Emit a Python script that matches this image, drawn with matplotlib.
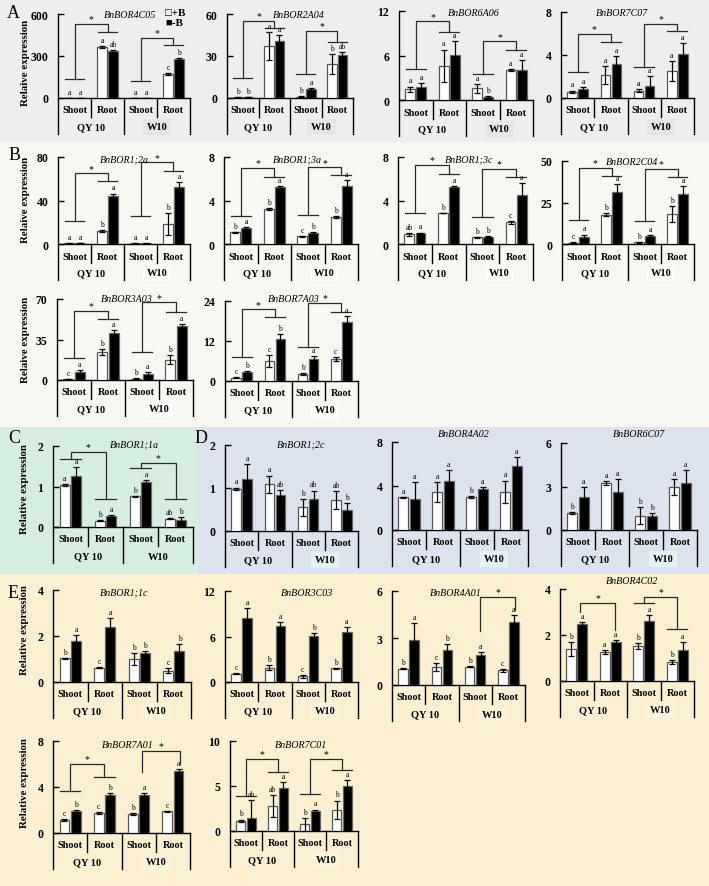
import matplotlib
matplotlib.use('Agg')
import matplotlib.pyplot as plt
from matplotlib.patches import Rectangle

plt.rcParams['font.family'] = ['Liberation Serif', 'DejaVu Sans']

W, H = 709, 887

groups = ['Shoot', 'Root', 'Shoot', 'Root']
cultivars = ['QY 10', 'W10']
legend_labels = ['\u25a1+B', '\u25a0-B']
ylabel_ab = 'Relaive expression'
ylabel_ce = 'Relative expression'

# ------------------------------------------------------------------ data
# order of the 4 values: QY10 Shoot, QY10 Root, W10 Shoot, W10 Root
# ---- A
g4C05_p = [1.5, 364, 1.5, 171]; g4C05_pe = [0.5, 8, 0.5, 8]
g4C05_m = [1.5, 333, 1.5, 278]; g4C05_me = [0.5, 10, 0.5, 10]
g4C05_lp = ['a', 'a', 'a', 'c']; g4C05_lm = ['a', 'ab', 'a', 'b']
g4C05_sig = [('s', 0, 136, 528, 1, 471), ('s', 2, 124, 428, 3, 378)]

g2A04_p = [0.5, 36.9, 1.0, 24.3]; g2A04_pe = [0.2, 10, 0.3, 7]
g2A04_m = [0.8, 41, 6.4, 30.7]; g2A04_me = [0.2, 4, 0.8, 2]
g2A04_lp = ['b', 'a', 'b', 'b']; g2A04_lm = ['b', 'a', 'a', 'ab']
g2A04_sig = [('s', 0, 14, 55, 1, 50), ('s', 2, 17, 48, 3, 40)]

g6A06_p = [1.47, 4.6, 1.56, 4.0]; g6A06_pe = [0.35, 2.2, 0.57, 0.15]
g6A06_m = [1.8, 6.1, 0.4, 4.04]; g6A06_me = [0.5, 1.9, 0.1, 1.4]
g6A06_lp = ['a', 'a', 'a', 'a']; g6A06_lm = ['a', 'a', 'b', 'a']
g6A06_sig = [('s', 0, 4.2, 10.6, 1, 9.2), ('s', 2, 3.5, 7.9, 3, 6.8)]

g7C07_p = [0.59, 2.14, 0.68, 2.54]; g7C07_pe = [0.1, 0.86, 0.15, 0.93]
g7C07_m = [0.84, 3.16, 1.14, 4.09]; g7C07_me = [0.15, 0.77, 0.88, 1.0]
g7C07_lp = ['a', 'a', 'a', 'a']; g7C07_lm = ['a', 'a', 'a', 'a']
g7C07_sig = [('s', 0, 2.4, 5.95, 1, 5.2), ('s', 2, 2.85, 6.9, 3, 6.2)]

# ---- B
g12a_p = [0.5, 12.2, 0.5, 18.4]; g12a_pe = [0.1, 1.0, 0.1, 10]
g12a_m = [0.8, 44.4, 0.5, 52.7]; g12a_me = [0.1, 2, 0.1, 4]
g12a_lp = ['a', 'b', 'a', 'b']; g12a_lm = ['a', 'a', 'a', 'a']
g12a_sig = [('s', 0, 21.5, 65, 1, 58.2), ('s', 2, 26, 75, 3, 67.4)]

g13a_p = [1.07, 3.2, 0.7, 2.5]; g13a_pe = [0.03, 0.1, 0.05, 0.1]
g13a_m = [1.44, 5.2, 0.98, 5.37]; g13a_me = [0.15, 0.15, 0.1, 0.55]
g13a_lp = ['b', 'b', 'c', 'b']; g13a_lm = ['a', 'a', 'b', 'a']
g13a_sig = [('s', 0, 2.6, 7.0, 1, 6.2), ('s', 2, 2.67, 7.05, 3, 6.35)]

g13c_p = [0.89, 2.85, 0.61, 2.0]; g13c_pe = [0.15, 0.03, 0.03, 0.15]
g13c_m = [1.0, 5.27, 0.67, 4.5]; g13c_me = [0.05, 0.08, 0.03, 1.1]
g13c_lp = ['ab', 'b', 'b', 'c']; g13c_lm = ['a', 'a', 'b', 'a']
g13c_sig = [('s', 0, 2.82, 7.27, 1, 6.44), ('s', 2, 2.5, 6.9, 3, 6.13)]

g2C04_p = [0.8, 17.7, 1.0, 18.1]; g2C04_pe = [0.2, 0.8, 0.2, 5]
g2C04_m = [4.5, 31.5, 4.8, 30.1]; g2C04_me = [1.2, 4.5, 0.5, 4.6]
g2C04_lp = ['c', 'b', 'b', 'b']; g2C04_lm = ['a', 'a', 'a', 'a']
g2C04_sig = [('s', 0, 14.7, 46, 1, 41), ('s', 2, 14.1, 45.4, 3, 40.6)]

g3A03_p = [0.8, 24, 1.2, 17.5]; g3A03_pe = [0.2, 2.5, 0.3, 4]
g3A03_m = [7, 40.4, 5, 46.4]; g3A03_me = [1.5, 3, 1.5, 2]
g3A03_lp = ['c', 'b', 'b', 'b']; g3A03_lm = ['a', 'a', 'a', 'a']
g3A03_sig = [('s', 0, 18.7, 60, 1, 52.7), ('s', 2, 24, 67, 3, 58.5)]

g7A03_p = [1.0, 6.0, 2.2, 6.7]; g7A03_pe = [0.2, 1.8, 0.3, 0.6]
g7A03_m = [2.8, 12.7, 6.7, 17.8]; g7A03_me = [0.3, 1.5, 0.9, 1.7]
g7A03_lp = ['c', 'c', 'b', 'c']; g7A03_lm = ['b', 'b', 'a', 'a']
g7A03_sig = [('s', 0, 7.3, 21.5, 1, 19.3), ('s', 2, 10.3, 23.5, 3, 20.7)]

# ---- C
g11a_p = [1.03, 0.16, 0.76, 0.2]; g11a_pe = [0.02, 0.01, 0.01, 0.01]
g11a_m = [1.25, 0.27, 1.1, 0.18]; g11a_me = [0.23, 0.03, 0.05, 0.07]
g11a_lp = ['a', 'b', 'b', 'ab']; g11a_lm = ['a', 'a', 'a', 'b']
g11a_sig = [('s', 0, 1.67, 1.86, 1, 0.69), ('s', 2, 1.45, 1.59, 3, 0.69)]

# ---- D
g12c_p = [0.98, 1.09, 0.55, 0.72]; g12c_pe = [0.03, 0.2, 0.2, 0.2]
g12c_m = [1.22, 0.84, 0.74, 0.49]; g12c_me = [0.34, 0.12, 0.2, 0.15]
g12c_lp = ['a', 'a', 'b', 'ab']; g12c_lm = ['a', 'ab', 'ab', 'b']
g12c_sig = []

g4A02_p = [2.97, 3.43, 3.03, 3.5]; g4A02_pe = [0.05, 0.9, 0.08, 1.0]
g4A02_m = [2.8, 4.43, 3.73, 5.85]; g4A02_me = [1.6, 1.0, 0.2, 0.8]
g4A02_lp = ['a', 'a', 'b', 'a']; g4A02_lm = ['a', 'a', 'a', 'a']
g4A02_sig = []

g6C07_p = [1.17, 3.22, 0.99, 2.94]; g6C07_pe = [0.08, 0.15, 0.6, 0.55]
g6C07_m = [2.26, 2.64, 0.99, 3.22]; g6C07_me = [0.7, 0.85, 0.15, 0.9]
g6C07_lp = ['b', 'a', 'b', 'a']; g6C07_lm = ['a', 'a', 'b', 'a']
g6C07_sig = []

# ---- E
g11c_p = [1.03, 0.62, 1.0, 0.49]; g11c_pe = [0.03, 0.03, 0.25, 0.1]
g11c_m = [1.79, 2.37, 1.25, 1.34]; g11c_me = [0.25, 0.4, 0.08, 0.3]
g11c_lp = ['b', 'c', 'b', 'c']; g11c_lm = ['a', 'a', 'b', 'b']
g11c_sig = []

g3C03_p = [1.09, 1.88, 0.75, 1.8]; g3C03_pe = [0.05, 0.3, 0.2, 0.1]
g3C03_m = [8.5, 7.33, 6.1, 6.6]; g3C03_me = [1.3, 0.6, 0.3, 0.6]
g3C03_lp = ['c', 'b', 'c', 'b']; g3C03_lm = ['a', 'a', 'b', 'a']
g3C03_sig = []

g4A01_p = [1.04, 1.17, 1.17, 0.94]; g4A01_pe = [0.04, 0.25, 0.05, 0.1]
g4A01_m = [2.87, 2.21, 1.91, 4.04]; g4A01_me = [1.1, 0.4, 0.2, 0.45]
g4A01_lp = ['b', 'c', 'b', 'c']; g4A01_lm = ['a', 'b', 'a', 'a']
g4A01_sig = [('l', 2.15, 3.44, 5.6, 3.2, 4.8)]

g4C02_p = [1.38, 1.26, 1.52, 0.84]; g4C02_pe = [0.3, 0.1, 0.15, 0.08]
g4C02_m = [2.47, 1.7, 2.61, 1.35]; g4C02_me = [0.1, 0.1, 0.25, 0.33]
g4C02_lp = ['b', 'a', 'b', 'b']; g4C02_lm = ['a', 'a', 'a', 'a']
g4C02_sig = [('l', 0.1, 3.0, 3.38, 1.15, 2.2), ('s', 2, 3.38, 3.64, 3, 2.25)]

g7A01_p = [1.16, 1.74, 1.65, 1.88]; g7A01_pe = [0.08, 0.08, 0.05, 0.05]
g7A01_m = [1.9, 3.33, 3.33, 5.37]; g7A01_me = [0.12, 0.15, 0.15, 0.2]
g7A01_lp = ['c', 'c', 'b', 'c']; g7A01_lm = ['b', 'b', 'a', 'a']
g7A01_sig = [('s', 0, 3.68, 6.0, 1, 4.84), ('l', 2.1, 5.3, 7.16, 3.2, 6.0)]

g7C01_p = [1.12, 2.81, 0.75, 2.33]; g7C01_pe = [0.15, 1.2, 0.7, 1.05]
g7C01_m = [1.39, 4.8, 2.18, 5.0]; g7C01_me = [2.1, 0.6, 0.2, 0.7]
g7C01_lp = ['b', 'ab', 'b', 'b']; g7C01_lm = ['ab', 'a', 'a', 'a']
g7C01_sig = [('s', 0, 3.93, 8.0, 1, 6.56), ('s', 2, 4.12, 8.0, 3, 6.74)]

# ------------------------------------------------------------------ layout
fig = plt.figure(figsize=(W / 100, H / 100), dpi=100)
fig.patch.set_facecolor('white')

sections = [  # x0, y0, x1, y1 (pixels), colour, letter, letter pos
    (0, 0, 709, 143, '#eeeeee', 'A', (7, 13)),
    (0, 143, 709, 428, '#f6f8f1', 'B', (9, 156)),
    (0, 428, 198, 575, '#d6eedf', 'C', (8, 439)),
    (198, 428, 709, 575, '#dce3ee', 'D', (195, 439)),
    (0, 575, 709, 887, '#fdf0d2', 'E', (8, 593)),
]
w10_box = {'A': '#e6e6e6', 'B': '#fbfcf8', 'C': '#d6eedf', 'D': '#e3f2f3', 'E': '#fdf3dc'}

for x0, y0, x1, y1, col, let, (lx, ly) in sections:
    fig.patches.append(Rectangle((x0 / W, 1 - y1 / H), (x1 - x0) / W, (y1 - y0) / H,
                                 transform=fig.transFigure, facecolor=col,
                                 edgecolor='none', zorder=-10))
    fig.text(lx / W, 1 - ly / H, let, fontsize=13, ha='left', va='center')


def draw_panel(geom, ymax, title, tpos, p, pe, m, me, lp, lm, sig, sec):
    xl, xr, yt, y0 = geom
    ax = fig.add_axes([xl / W, 1 - y0 / H, (xr - xl) / W, (y0 - yt) / H])
    ax.set_facecolor('none')
    ax.set_xlim(-0.5, 3.5)
    ax.set_ylim(0, ymax)
    k = ymax / (y0 - yt)
    for s in ['top', 'right', 'left']:
        ax.spines[s].set_visible(False)
    ax.spines['bottom'].set_linewidth(1.0)
    ax.set_xticks([])
    ticks = [0, ymax / 2, ymax]
    ax.set_yticks(ticks)
    ax.set_yticklabels([f'{t:g}' for t in ticks], fontweight='bold', fontsize=8.5)
    ax.tick_params(axis='y', direction='in', length=4, width=1, pad=7)
    # left spine & dividers
    ax.plot([-0.5, -0.5], [ymax, -36 * k], color='k', lw=1, clip_on=False)
    for x, d in [(0.5, 19), (1.5, 36), (2.5, 19), (3.5, 36)]:
        ax.plot([x, x], [0, -d * k], color='k', lw=1, clip_on=False)
    for i, g in enumerate(groups):
        ax.text(i, -12 * k, g, ha='center', va='center', fontsize=7.3,
                fontweight='bold')
    ax.text(0.5, -29 * k, cultivars[0], ha='center', va='center', fontsize=7.5,
            fontweight='bold')
    ax.text(2.5, -29 * k, cultivars[1], ha='center', va='center', fontsize=7.5,
            fontweight='bold',
            bbox=dict(boxstyle='square,pad=0.35', fc=w10_box[sec], ec='none'))
    xs = [0, 1, 2, 3]
    off = 0.165
    bw = 0.29
    ekw = dict(elinewidth=0.9, capthick=0.9, ecolor='black')
    ax.bar([x - off for x in xs], p, width=bw, color='white', edgecolor='#555555',
           lw=0.9, yerr=pe, capsize=2, error_kw=ekw, zorder=3)
    ax.bar([x + off for x in xs], m, width=bw, color='black', edgecolor='#666666',
           lw=0.9, yerr=me, capsize=2, error_kw=ekw, zorder=3)
    for i in range(4):
        ax.annotate(lp[i], (xs[i] - off, p[i] + pe[i]), xytext=(0, 1.5),
                    textcoords='offset points', ha='center', va='bottom',
                    fontsize=5.5, annotation_clip=False)
        ax.annotate(lm[i], (xs[i] + off, m[i] + me[i]), xytext=(0, 1.5),
                    textcoords='offset points', ha='center', va='bottom',
                    fontsize=5.5, annotation_clip=False)
    lc = '#2b2b2b'
    for b in sig:
        kind, a, ya, ytop, c, yc = b
        if kind == 's':
            ax.plot([a - 0.3, a + 0.3], [ya, ya], color=lc, lw=0.9, clip_on=False)
            ax.plot([c - 0.3, c + 0.3], [yc, yc], color=lc, lw=0.9, clip_on=False)
        ax.plot([a, a, c, c], [ya, ytop, ytop, yc], color=lc, lw=0.9, clip_on=False)
        ax.annotate('*', ((a + c) / 2, ytop), xytext=(0, 0.5), textcoords='offset points',
                    ha='center', va='bottom', fontsize=7, annotation_clip=False)
    fig.text(tpos[0] / W, 1 - tpos[1] / H, title, ha='center', va='center',
             fontsize=7.2, fontstyle='italic')
    return ax


panels = [
    # geometry (x_left, x_right, y_top, y_zero), ymax, title, title pos, data, section
    ((58, 190, 15, 99), 600, 'BnBOR4C05', (130, 15),
     (g4C05_p, g4C05_pe, g4C05_m, g4C05_me, g4C05_lp, g4C05_lm, g4C05_sig), 'A'),
    ((227, 353, 15, 99), 60, 'BnBOR2A04', (299, 15),
     (g2A04_p, g2A04_pe, g2A04_m, g2A04_me, g2A04_lp, g2A04_lm, g2A04_sig), 'A'),
    ((399, 533, 12, 101), 12, 'BnBOR6A06', (474, 13),
     (g6A06_p, g6A06_pe, g6A06_m, g6A06_me, g6A06_lp, g6A06_lm, g6A06_sig), 'A'),
    ((561, 694, 13, 99), 8, 'BnBOR7C07', (622, 13),
     (g7C07_p, g7C07_pe, g7C07_m, g7C07_me, g7C07_lp, g7C07_lm, g7C07_sig), 'A'),
    ((58, 190, 158, 245), 80, 'BnBOR1;2a', (124, 160),
     (g12a_p, g12a_pe, g12a_m, g12a_me, g12a_lp, g12a_lm, g12a_sig), 'B'),
    ((224, 358, 158, 245), 8, 'BnBOR1;3a', (297, 160),
     (g13a_p, g13a_pe, g13a_m, g13a_me, g13a_lp, g13a_lm, g13a_sig), 'B'),
    ((398, 533, 158, 245), 8, 'BnBOR1;3c', (469, 160),
     (g13c_p, g13c_pe, g13c_m, g13c_me, g13c_lp, g13c_lm, g13c_sig), 'B'),
    ((562, 694, 162, 245), 50, 'BnBOR2C04', (632, 163),
     (g2C04_p, g2C04_pe, g2C04_m, g2C04_me, g2C04_lp, g2C04_lm, g2C04_sig), 'B'),
    ((57, 193, 300, 381), 70, 'BnBOR3A03', (127, 300),
     (g3A03_p, g3A03_pe, g3A03_m, g3A03_me, g3A03_lp, g3A03_lm, g3A03_sig), 'B'),
    ((225, 358, 302, 382), 24, 'BnBOR7A03', (294, 300),
     (g7A03_p, g7A03_pe, g7A03_m, g7A03_me, g7A03_lp, g7A03_lm, g7A03_sig), 'B'),
    ((53, 193, 447, 528), 2, 'BnBOR1;1a', (134, 445),
     (g11a_p, g11a_pe, g11a_m, g11a_me, g11a_lp, g11a_lm, g11a_sig), 'C'),
    ((225, 358, 446, 532), 2, 'BnBOR1;2c', (301, 445),
     (g12c_p, g12c_pe, g12c_m, g12c_me, g12c_lp, g12c_lm, g12c_sig), 'D'),
    ((392, 528, 443, 531), 8, 'BnBOR4A02', (464, 435),
     (g4A02_p, g4A02_pe, g4A02_m, g4A02_me, g4A02_lp, g4A02_lm, g4A02_sig), 'D'),
    ((561, 697, 444, 531), 6, 'BnBOR6C07', (639, 435),
     (g6C07_p, g6C07_pe, g6C07_m, g6C07_me, g6C07_lp, g6C07_lm, g6C07_sig), 'D'),
    ((53, 191, 591, 683), 4, 'BnBOR1;1c', (124, 593),
     (g11c_p, g11c_pe, g11c_m, g11c_me, g11c_lp, g11c_lm, g11c_sig), 'E'),
    ((225, 358, 592, 683), 12, 'BnBOR3C03', (307, 593),
     (g3C03_p, g3C03_pe, g3C03_m, g3C03_me, g3C03_lp, g3C03_lm, g3C03_sig), 'E'),
    ((392, 525, 592, 686), 6, 'BnBOR4A01', (456, 593),
     (g4A01_p, g4A01_pe, g4A01_m, g4A01_me, g4A01_lp, g4A01_lm, g4A01_sig), 'E'),
    ((560, 694, 590, 682), 4, 'BnBOR4C02', (632, 581),
     (g4C02_p, g4C02_pe, g4C02_m, g4C02_me, g4C02_lp, g4C02_lm, g4C02_sig), 'E'),
    ((53, 190, 742, 834), 8, 'BnBOR7A01', (128, 745),
     (g7A01_p, g7A01_pe, g7A01_m, g7A01_me, g7A01_lp, g7A01_lm, g7A01_sig), 'E'),
    ((230, 358, 742, 832), 10, 'BnBOR7C01', (301, 745),
     (g7C01_p, g7C01_pe, g7C01_m, g7C01_me, g7C01_lp, g7C01_lm, g7C01_sig), 'E'),
]

for geom, ymax, title, tpos, d, sec in panels:
    draw_panel(geom, ymax, title, tpos, *d, sec)

# y labels (text, x, y centre in pixels)
for lab, x, y in [(ylabel_ab, 26, 63), (ylabel_ab, 26, 200), (ylabel_ab, 26, 340),
                  (ylabel_ce, 25, 489), (ylabel_ce, 25, 630), (ylabel_ce, 25, 783)]:
    fig.text(x / W, 1 - y / H, lab, rotation=90, ha='center', va='center',
             fontsize=7.8, fontweight='bold')

# legend
fig.text(165 / W, 1 - 13 / H, legend_labels[0], fontsize=8, fontweight='bold',
         ha='left', va='center')
fig.text(165 / W, 1 - 24 / H, legend_labels[1], fontsize=8, fontweight='bold',
         ha='left', va='center')

fig.savefig('out.png', dpi=100, facecolor=fig.get_facecolor())
